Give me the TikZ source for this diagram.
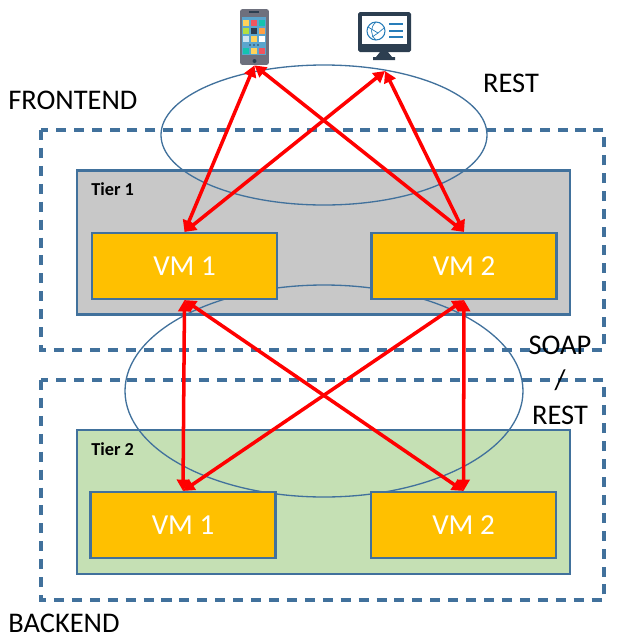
\documentclass[tikz,border=0pt]{standalone}
\usepackage{fontspec}
\setmainfont{Carlito}
\definecolor{edgeblue}{RGB}{65, 113, 156}
\definecolor{tiergray}{RGB}{200, 200, 200}
\definecolor{tiergreen}{RGB}{197, 224, 180}
\definecolor{vmorange}{RGB}{255, 192, 0}
\definecolor{linkred}{RGB}{255, 0, 0}
\definecolor{screendark}{RGB}{44, 62, 80}
\definecolor{phonegray}{RGB}{110, 112, 125}
\definecolor{phonescreen}{RGB}{90, 165, 205}
\definecolor{globeblue}{RGB}{40, 125, 185}
\definecolor{appyellow}{RGB}{255, 210, 90}
\definecolor{apppink}{RGB}{240, 85, 95}
\definecolor{appteal}{RGB}{20, 195, 175}
\definecolor{apporange}{RGB}{255, 160, 70}
\usepackage{tikz}
\usetikzlibrary{arrows.meta, positioning}
\tikzset{
  zone/.style={draw=edgeblue, line width=2pt, dash pattern=on 5.7pt off 4.5pt},
  tier/.style={draw=edgeblue, line width=1.2pt, minimum width=9.86cm, minimum height=2.88cm, inner sep=0pt},
  vm/.style={draw=edgeblue, fill=vmorange, line width=1.2pt, minimum width=3.7cm, minimum height=1.32cm, inner sep=0pt, text=white, font=\fontsize{16.5}{18}\selectfont},
  tiertag/.style={font=\fontsize{10.4}{12}\selectfont\bfseries, inner sep=0pt},
  caption/.style={font=\fontsize{16.2}{20}\selectfont, inner sep=0pt, align=center},
  scopering/.style={draw=edgeblue, line width=0.75pt},
  link/.style={draw=linkred, line width=2pt, {Triangle[length=6.5pt,width=7pt]}-{Triangle[length=6.5pt,width=7pt]}}
}

\begin{document}
\begin{tikzpicture}[x=0.02cm, y=-0.02cm]
  \useasboundingbox (0,0) rectangle (618,640);

  % Tier boxes
  \node[tier, fill=tiergray] (tierone) at (323.5,242.5) {};
  \node[tier, fill=tiergreen] (tiertwo) at (323.5,502) {};
  \node[tiertag, anchor=west] (tieronetag) at (91,189) {Tier 1};
  \node[tiertag, anchor=west] (tiertwotag) at (91,449) {Tier 2};

  % Protocol rings
  \draw[scopering] (324,135) ellipse (163 and 70);
  \draw[scopering] (324,391) ellipse (199 and 106);

  % Zones
  \draw[zone] (41,130) rectangle (604,350);
  \draw[zone] (41,380) rectangle (604,600);

  % Virtual machines
  \node[vm] (vmoneup) at (184.5,266) {VM 1};
  \node[vm] (vmtwoup) at (464,266) {VM 2};
  \node[vm] (vmonelow) at (183,525) {VM 1};
  \node[vm] (vmtwolow) at (463.5,525) {VM 2};

  % Phone
  \node[fill=phonegray, rounded corners=1.5pt, minimum width=0.58cm, minimum height=1.12cm, inner sep=0pt] (phone) at (254.5,37) {};
  \fill[phonescreen] (242,17) rectangle (266,55);
  \fill[screendark] (249,11) rectangle (259,13);
  \fill[screendark] (254.5,61) circle (2);
  \foreach \col/\row/\tint in {246/23/appyellow, 254/23/apppink, 262/23/appteal,
                               246/31/appyellow!70!green, 254/31/screendark, 262/31/apporange,
                               246/39/white!70!phonescreen, 254/39/appyellow, 262/39/white,
                               246/51/appteal, 254/51/appyellow, 262/51/apppink}
    \fill[\tint] (\col-2.7,\row-2.7) rectangle (\col+2.7,\row+2.7);
  \foreach \col in {250,254,258}
    \fill[screendark] (\col,45) circle (0.9);

  % Monitor
  \coordinate (monitorport) at (385,71);
  \fill[screendark, rounded corners=1pt] (358,12) rectangle (411,52);
  \fill[white] (362,16) rectangle (407,44);
  \fill[screendark] (380,52) -- (388,52) -- (392,57) -- (395,57) -- (395,60) -- (373,60) -- (373,57) -- (376,57) -- cycle;
  \draw[globeblue, line width=0.6pt] (376,31) circle (9);
  \draw[globeblue, line width=0.4pt] (376,22) .. controls (370,27) and (370,35) .. (376,40);
  \draw[globeblue, line width=0.4pt] (368,27) -- (378,33) -- (384,28);
  \draw[globeblue, line width=0.4pt] (378,33) -- (372,37);
  \foreach \row in {24,31,37}
    \fill[globeblue] (389,\row-1.3) rectangle (403,\row+1.3);

  % Links
  \draw[link] (phone.south) -- (vmoneup.north);
  \draw[link] (phone.south) -- (vmtwoup.north);
  \draw[link] (monitorport) -- (vmoneup.north);
  \draw[link] (monitorport) -- (vmtwoup.north);
  \draw[link] (vmoneup.south) -- (vmonelow.north);
  \draw[link] (vmoneup.south) -- (vmtwolow.north);
  \draw[link] (vmtwoup.south) -- (vmonelow.north);
  \draw[link] (vmtwoup.south) -- (vmtwolow.north);

  % Captions
  \node[caption, anchor=base west] (frontend) at (8,109) {FRONTEND};
  \node[caption, anchor=base west] (backend) at (8,632) {BACKEND};
  \node[caption] (rest) at (511,83) {REST};
  \node[caption] (soap) at (560,380) {SOAP\\/\\REST};
\end{tikzpicture}
\end{document}
